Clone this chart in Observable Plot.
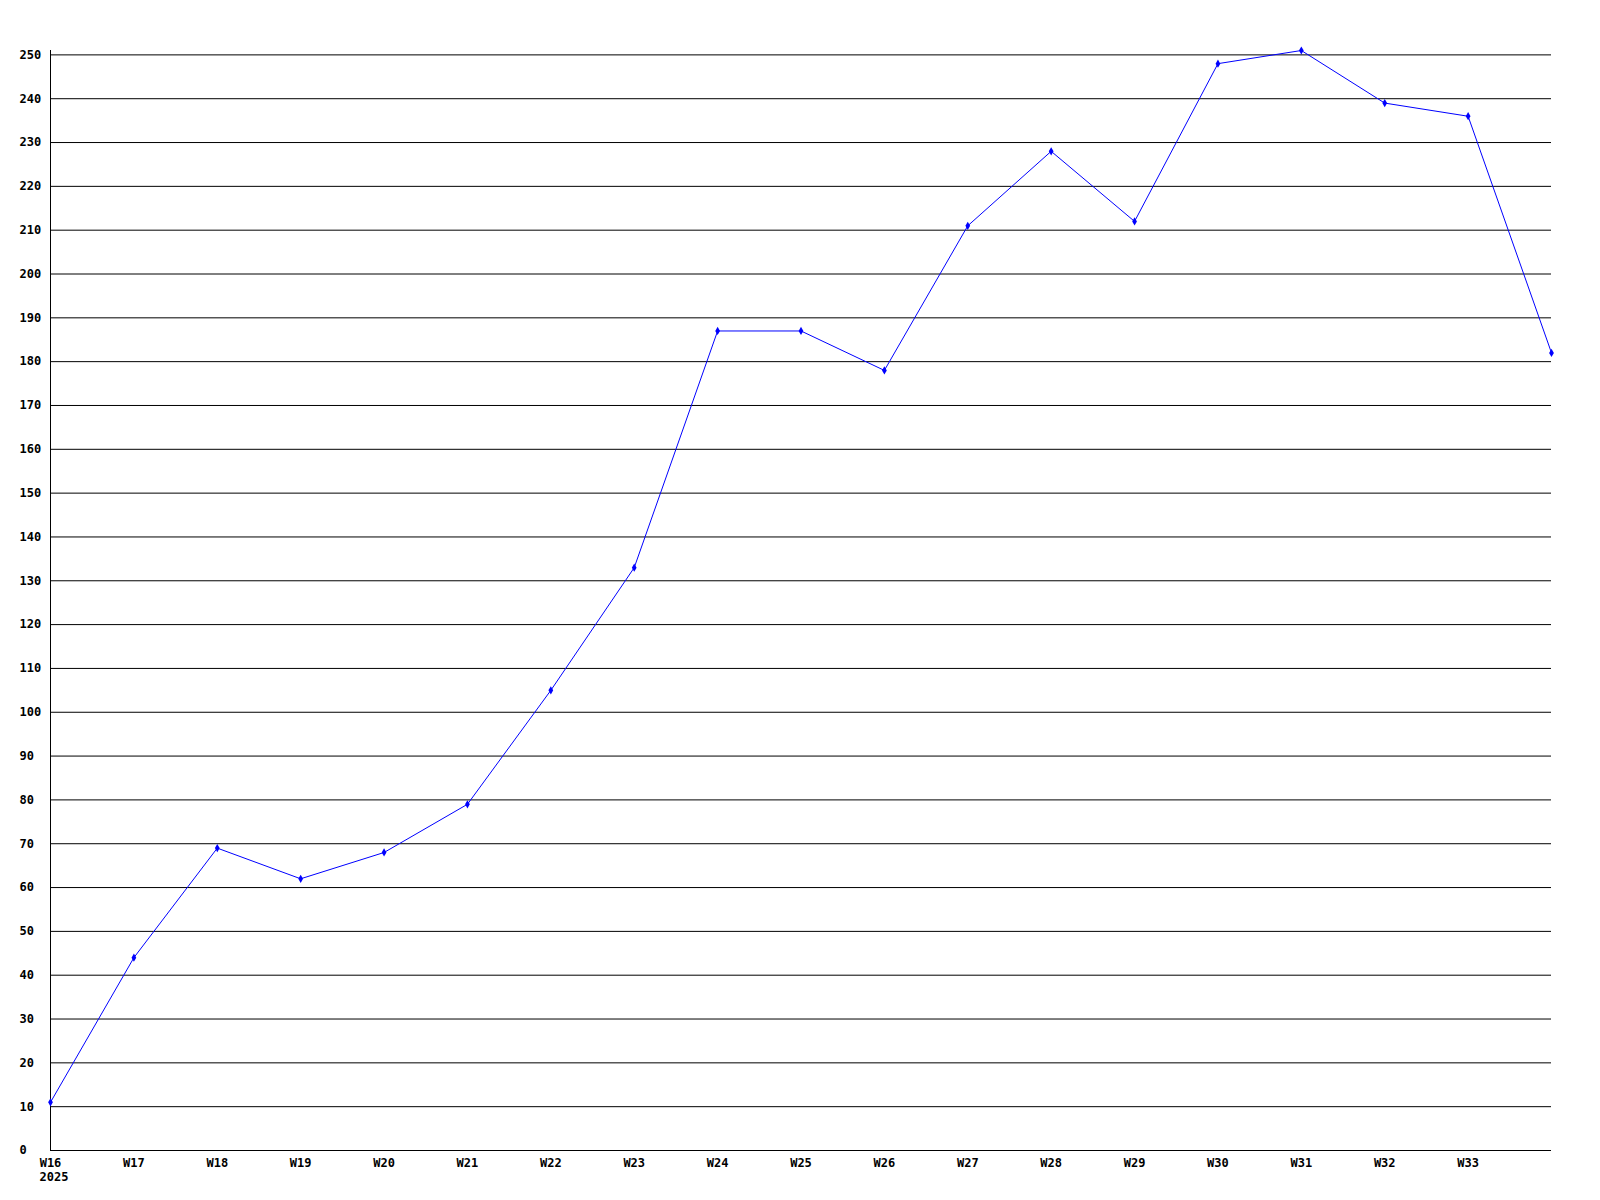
<!DOCTYPE html>
<html>
<head>
<meta charset="utf-8">
<script src="https://cdn.jsdelivr.net/npm/d3@7"></script>
<script src="https://cdn.jsdelivr.net/npm/@observablehq/plot@0.6"></script>
<style>
  html, body { margin: 0; padding: 0; background: #fff; }
</style>
</head>
<body>
<div id="chart"></div>
<script>
// Week numbers (x) and values (y)
const weeks = [16, 17, 18, 19, 20, 21, 22, 23, 24, 25, 26, 27, 28, 29, 30, 31, 32, 33, 34];
const values = [11, 44, 69, 62, 68, 79, 105, 133, 187, 187, 178, 211, 228, 212, 248, 251, 239, 236, 182];
const xTickWeeks = [16, 17, 18, 19, 20, 21, 22, 23, 24, 25, 26, 27, 28, 29, 30, 31, 32, 33];
const yTicks = [0, 10, 20, 30, 40, 50, 60, 70, 80, 90, 100, 110, 120, 130, 140, 150, 160, 170, 180, 190, 200, 210, 220, 230, 240, 250];
const yearLabel = "2025";

const data = weeks.map((w, i) => ({ week: w, value: values[i] }));
const font = "'DejaVu Sans Mono', 'Liberation Mono', monospace";

const chart = Plot.plot({
  width: 1600,
  height: 1200,
  marginLeft: 50,
  marginRight: 49,
  marginTop: 50,
  marginBottom: 50,
  style: { fontFamily: font, fontSize: "12px", fontWeight: "bold", background: "#fff", color: "#000" },
  x: { type: "linear", domain: [16, 34] },
  y: { domain: [0, 251] },
  marks: [
    Plot.ruleY(yTicks, { y: d => d, stroke: "#000", strokeWidth: 1 }),
    Plot.ruleX([16], { y1: 0, y2: 251, stroke: "#000", strokeWidth: 1 }),
    Plot.axisY(yTicks, {
      tickSize: 0, label: null, textAnchor: "start", dx: -22,
      tickFormat: d => String(d), fontWeight: "bold", fill: "#000"
    }),
    Plot.axisX(xTickWeeks, {
      tickSize: 0, label: null, tickPadding: 8,
      tickFormat: d => "W" + d, fontWeight: "bold", fill: "#000"
    }),
    Plot.text([yearLabel], {
      x: () => 16, frameAnchor: "bottom", text: d => d,
      textAnchor: "start", dx: -11, dy: 30, fill: "#000", fontWeight: "bold"
    }),
    Plot.line(data, { x: "week", y: "value", stroke: "#0000ff", strokeWidth: 1 }),
    Plot.dot(data, { x: "week", y: "value", symbol: "diamond", r: 2.5, fill: "#0000ff", stroke: "none" })
  ]
});

document.getElementById("chart").appendChild(chart);
</script>
</body>
</html>
